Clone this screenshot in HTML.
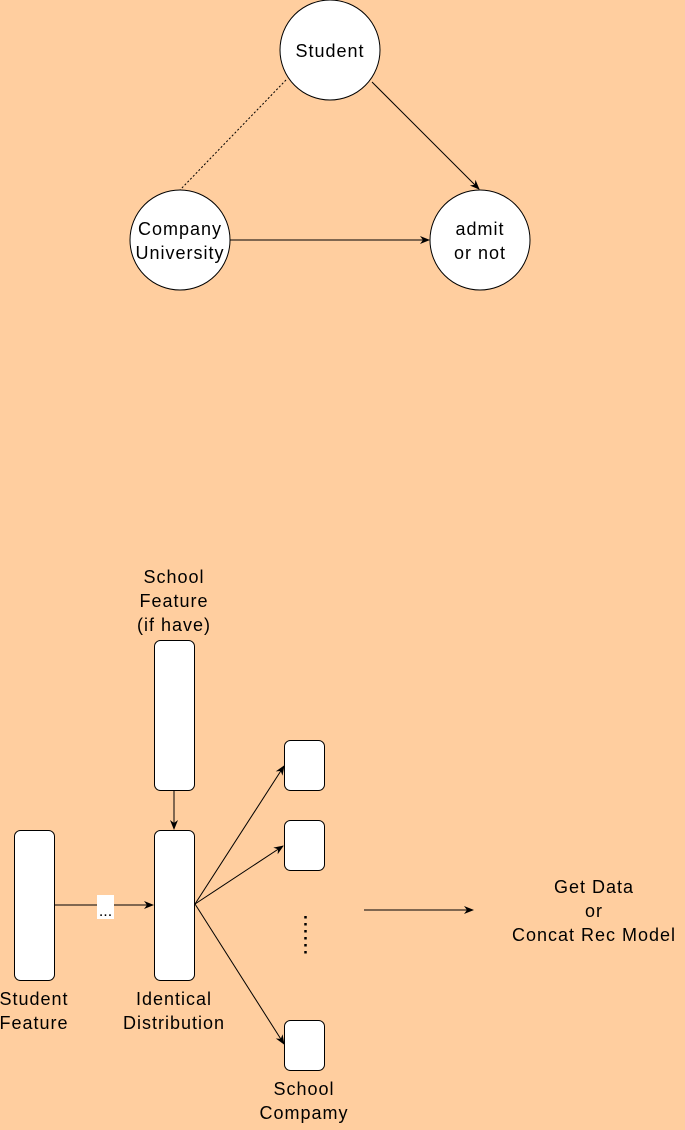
<!DOCTYPE html>
<html><head><style>html,body{margin:0;padding:0;background:#ffce9f}</style></head>
<body>
<svg width="685" height="1125" viewBox="0 0 685 1125" xmlns="http://www.w3.org/2000/svg" font-family="Liberation Sans, sans-serif" font-size="18">
<defs><marker id="a" markerWidth="10" markerHeight="10" refX="9" refY="5" orient="auto" markerUnits="userSpaceOnUse"><path d="M0,1 L10,5 L0,9 L3,5 Z" fill="#000"/></marker></defs>
<rect width="685" height="1125" fill="#ffce9f"/>
<line x1="286" y1="80" x2="180" y2="190" stroke="#000" stroke-dasharray="2,2"/>
<line x1="372" y1="82" x2="479" y2="189" stroke="#000" marker-end="url(#a)"/>
<line x1="230" y1="240" x2="429" y2="240" stroke="#000" marker-end="url(#a)"/>
<circle cx="330" cy="50" r="50" fill="#fff" stroke="#000"/>
<circle cx="180" cy="240" r="50" fill="#fff" stroke="#000"/>
<circle cx="480" cy="240" r="50" fill="#fff" stroke="#000"/>
<g text-anchor="middle" letter-spacing="1">
<text x="330" y="57">Student</text>
<text x="180" y="235">Company</text><text x="180" y="259">University</text>
<text x="480" y="235">admit</text><text x="480" y="259">or not</text>
<text x="174" y="583">School</text><text x="174" y="607">Feature</text><text x="174" y="631">(if have)</text>
<text x="34" y="1005">Student</text><text x="34" y="1029">Feature</text>
<text x="174" y="1005">Identical</text><text x="174" y="1029">Distribution</text>
<text x="304" y="1095">School</text><text x="304" y="1119">Compamy</text>
<text x="594" y="893">Get Data</text><text x="594" y="917">or</text><text x="594" y="941">Concat Rec Model</text>
</g>
<line x1="174" y1="790" x2="174" y2="829" stroke="#000" marker-end="url(#a)"/>
<line x1="54" y1="905" x2="153" y2="905" stroke="#000" marker-end="url(#a)"/>
<rect x="97" y="895" width="17" height="24" fill="#fff"/>
<text x="105.5" y="916" text-anchor="middle" font-size="16">...</text>
<line x1="195" y1="904" x2="284" y2="766" stroke="#000" marker-end="url(#a)"/>
<line x1="195" y1="904" x2="283" y2="846" stroke="#000" marker-end="url(#a)"/>
<line x1="195" y1="904" x2="284" y2="1044" stroke="#000" marker-end="url(#a)"/>
<line x1="364" y1="910" x2="473" y2="910" stroke="#000" marker-end="url(#a)"/>
<line x1="305.5" y1="916" x2="305.5" y2="956" stroke="#000" stroke-width="2.5" stroke-dasharray="2.5,4.5"/>
<g fill="#fff" stroke="#000">
<rect x="154.5" y="640.5" width="40" height="150" rx="6"/>
<rect x="154.5" y="830.5" width="40" height="150" rx="6"/>
<rect x="14.5" y="830.5" width="40" height="150" rx="6"/>
<rect x="284.5" y="740.5" width="40" height="50" rx="6"/>
<rect x="284.5" y="820.5" width="40" height="50" rx="6"/>
<rect x="284.5" y="1020.5" width="40" height="50" rx="6"/>
</g>
</svg>
</body></html>
